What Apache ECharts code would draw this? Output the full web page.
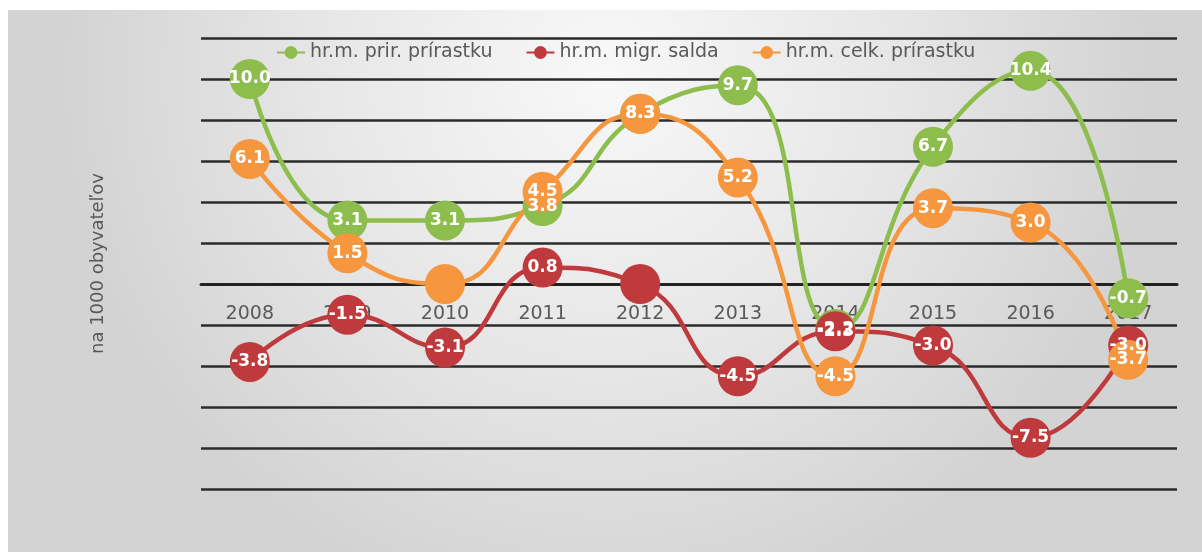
<!DOCTYPE html>
<html>

<head>
    <title>Hrubá miera prírastku</title>
    <meta charset="utf-8">
    <script src="https://cdn.jsdelivr.net/npm/echarts@6/dist/echarts.min.js"></script>
    <style>
        body { margin: 0; background: #fff; }
    </style>
</head>

<body>
    <!-- chart container, same size as the window -->
    <div id="main" style="width: 1202px;height:552px;"></div>

    <script type="text/javascript">
        // years on the x axis
        var years = ['2008', '2009', '2010', '2011', '2012', '2013', '2014', '2015', '2016', '2017'];

        // values per 1000 inhabitants
        var prirodzeny = [10.0, 3.1, 3.1, 3.8, 8.3, 9.7, -2.2, 6.7, 10.4, -0.7];
        var migracne = [-3.8, -1.5, -3.1, 0.8, 0.0, -4.5, -2.3, -3.0, -7.5, -3.0];
        var celkovy = [6.1, 1.5, 0.0, 4.5, 8.3, 5.2, -4.5, 3.7, 3.0, -3.7];

        var seriesNames = ['hr.m. prir. prírastku', 'hr.m. migr. salda', 'hr.m. celk. prírastku'];
        var colors = ['#8dbd4c', '#bf3a3c', '#f6963e'];

        var myChart = echarts.init(document.getElementById('main'));

        // Excel hides zero labels, so do we
        function makeSeries(name, values, color) {
            return {
                name: name,
                type: 'line',
                data: values,
                smooth: 0.5,
                symbol: 'circle',
                symbolSize: 40,
                itemStyle: { color: color },
                lineStyle: { width: 4.5, color: color },
                label: {
                    show: true,
                    position: 'inside',
                    color: '#fff',
                    fontWeight: 'bold',
                    fontSize: 17,
                    fontFamily: 'DejaVu Sans',
                    formatter: function (p) {
                        return p.value === 0 ? '' : p.value.toFixed(1);
                    }
                },
                emphasis: { disabled: true }
            };
        }

        var option = {
            backgroundColor: '#fff',
            animation: false,
            color: colors,
            // grey panel behind the plot
            graphic: [{
                type: 'rect',
                z: -10,
                shape: { x: 8, y: 10, width: 1194, height: 542 },
                style: {
                    fill: new echarts.graphic.RadialGradient(0.5, 0.12, 1.0, [
                        { offset: 0, color: '#f8f8f8' },
                        { offset: 0.55, color: '#e6e6e6' },
                        { offset: 1, color: '#d3d3d3' }
                    ])
                }
            }],
            legend: {
                data: seriesNames,
                top: 38,
                left: 271,
                itemGap: 33,
                itemWidth: 28,
                itemHeight: 16,
                textStyle: { color: '#595959', fontSize: 19, fontFamily: 'DejaVu Sans' }
            },
            grid: {
                left: 201,
                right: 25,
                top: 38,
                bottom: 63
            },
            xAxis: {
                type: 'category',
                data: years,
                boundaryGap: true,
                axisLine: { onZero: true, lineStyle: { color: '#222', width: 3 } },
                axisTick: { show: false },
                // labels sit just under the zero line, as in the original
                axisLabel: { color: '#595959', fontSize: 19, margin: -184, fontFamily: 'DejaVu Sans' }
            },
            yAxis: {
                type: 'value',
                min: -10,
                max: 12,
                interval: 2,
                name: 'na 1000 obyvateľov',
                nameLocation: 'middle',
                nameGap: 94,
                nameTextStyle: { color: '#595959', fontSize: 18, fontFamily: 'DejaVu Sans' },
                axisLine: { show: false },
                axisTick: { show: false },
                axisLabel: { show: false },
                splitLine: { lineStyle: { color: '#2b2b2b', width: 2.5 } }
            },
            series: [
                makeSeries(seriesNames[0], prirodzeny, colors[0]),
                makeSeries(seriesNames[1], migracne, colors[1]),
                makeSeries(seriesNames[2], celkovy, colors[2])
            ]
        };

        myChart.setOption(option);
    </script>
</body>

</html>
